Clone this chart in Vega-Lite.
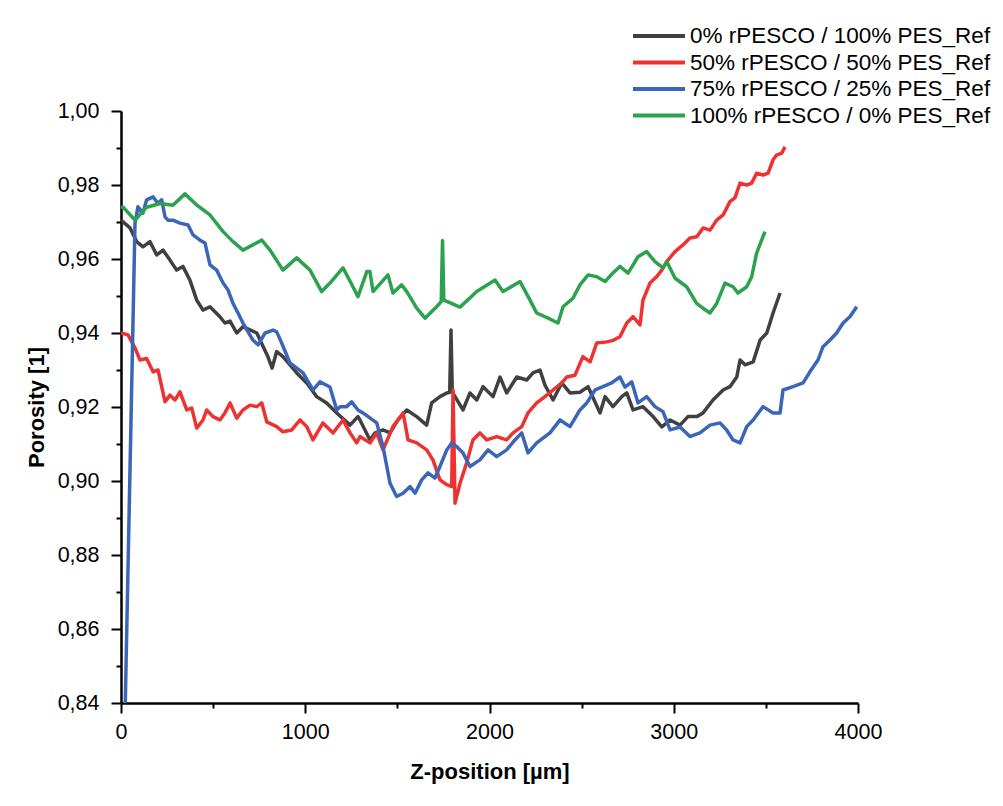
{
  "$schema": "https://vega.github.io/schema/vega-lite/v6.json",
  "width": 737,
  "height": 592,
  "autosize": "none",
  "padding": {"left": 121, "top": 111, "right": 145, "bottom": 103},
  "background": "white",
  "config": {
    "view": {"stroke": null},
    "font": "Liberation Sans",
    "axis": {"domainColor": "black", "domainWidth": 2.5, "tickColor": "black", "tickWidth": 2, "tickSize": 10, "grid": false, "labelFont": "Liberation Sans", "labelFontSize": 21.5, "labelColor": "black", "titleFont": "Liberation Sans", "titleFontSize": 22, "titleFontWeight": "bold", "titleColor": "black"}
  },
  "datasets": {
    "d0": [{"x":0,"y":0.9705},{"x":49,"y":0.9684},{"x":85,"y":0.9647},{"x":119,"y":0.9633},{"x":157,"y":0.9647},{"x":194,"y":0.9611},{"x":228,"y":0.9624},{"x":266,"y":0.9597},{"x":302,"y":0.957},{"x":336,"y":0.958},{"x":374,"y":0.9543},{"x":411,"y":0.9489},{"x":445,"y":0.9462},{"x":483,"y":0.9471},{"x":537,"y":0.9444},{"x":564,"y":0.9427},{"x":592,"y":0.9432},{"x":628,"y":0.94},{"x":662,"y":0.9417},{"x":737,"y":0.94},{"x":798,"y":0.9335},{"x":820,"y":0.9305},{"x":845,"y":0.935},{"x":879,"y":0.9336},{"x":954,"y":0.9292},{"x":1008,"y":0.9265},{"x":1062,"y":0.9228},{"x":1116,"y":0.9211},{"x":1171,"y":0.9184},{"x":1243,"y":0.9151},{"x":1286,"y":0.9174},{"x":1297,"y":0.9165},{"x":1351,"y":0.9111},{"x":1379,"y":0.913},{"x":1422,"y":0.9138},{"x":1460,"y":0.913},{"x":1503,"y":0.9165},{"x":1551,"y":0.9192},{"x":1605,"y":0.9174},{"x":1659,"y":0.9151},{"x":1686,"y":0.9211},{"x":1731,"y":0.9228},{"x":1768,"y":0.9238},{"x":1784,"y":0.924},{"x":1791,"y":0.9408},{"x":1798,"y":0.924},{"x":1813,"y":0.9228},{"x":1856,"y":0.9192},{"x":1894,"y":0.9238},{"x":1931,"y":0.9219},{"x":1965,"y":0.9255},{"x":2019,"y":0.9228},{"x":2057,"y":0.9281},{"x":2093,"y":0.9238},{"x":2148,"y":0.9281},{"x":2202,"y":0.9273},{"x":2236,"y":0.9292},{"x":2274,"y":0.93},{"x":2301,"y":0.9259},{"x":2345,"y":0.9219},{"x":2392,"y":0.9265},{"x":2437,"y":0.9238},{"x":2491,"y":0.924},{"x":2535,"y":0.9255},{"x":2600,"y":0.9184},{"x":2627,"y":0.9228},{"x":2670,"y":0.9201},{"x":2718,"y":0.9228},{"x":2745,"y":0.9238},{"x":2779,"y":0.9192},{"x":2833,"y":0.9201},{"x":2888,"y":0.9174},{"x":2935,"y":0.9146},{"x":2980,"y":0.9165},{"x":3034,"y":0.9151},{"x":3077,"y":0.9174},{"x":3125,"y":0.9174},{"x":3159,"y":0.9184},{"x":3213,"y":0.9219},{"x":3268,"y":0.9246},{"x":3305,"y":0.9255},{"x":3342,"y":0.9281},{"x":3360,"y":0.9327},{"x":3387,"y":0.9314},{"x":3431,"y":0.9322},{"x":3469,"y":0.9381},{"x":3505,"y":0.94},{"x":3539,"y":0.9454},{"x":3577,"y":0.9508}],
    "d50": [{"x":0,"y":0.94},{"x":38,"y":0.9395},{"x":76,"y":0.936},{"x":103,"y":0.9327},{"x":139,"y":0.9331},{"x":174,"y":0.9295},{"x":201,"y":0.93},{"x":239,"y":0.9214},{"x":266,"y":0.9232},{"x":293,"y":0.9219},{"x":320,"y":0.9241},{"x":357,"y":0.9192},{"x":384,"y":0.9197},{"x":411,"y":0.9143},{"x":445,"y":0.9165},{"x":465,"y":0.9192},{"x":499,"y":0.9174},{"x":537,"y":0.9165},{"x":564,"y":0.9184},{"x":592,"y":0.9211},{"x":628,"y":0.917},{"x":662,"y":0.9192},{"x":700,"y":0.9205},{"x":737,"y":0.9201},{"x":764,"y":0.9211},{"x":791,"y":0.916},{"x":845,"y":0.9147},{"x":879,"y":0.9133},{"x":927,"y":0.9138},{"x":972,"y":0.9165},{"x":1008,"y":0.9147},{"x":1042,"y":0.9111},{"x":1096,"y":0.9157},{"x":1151,"y":0.913},{"x":1205,"y":0.9165},{"x":1243,"y":0.913},{"x":1279,"y":0.9103},{"x":1297,"y":0.912},{"x":1351,"y":0.9103},{"x":1388,"y":0.913},{"x":1422,"y":0.9084},{"x":1476,"y":0.9147},{"x":1531,"y":0.9184},{"x":1558,"y":0.9111},{"x":1605,"y":0.9103},{"x":1659,"y":0.9084},{"x":1693,"y":0.9057},{"x":1731,"y":0.9003},{"x":1768,"y":0.899},{"x":1795,"y":0.8985},{"x":1802,"y":0.9246},{"x":1813,"y":0.894},{"x":1840,"y":0.8994},{"x":1876,"y":0.9049},{"x":1910,"y":0.9111},{"x":1948,"y":0.913},{"x":1985,"y":0.9111},{"x":2039,"y":0.912},{"x":2093,"y":0.9111},{"x":2128,"y":0.913},{"x":2175,"y":0.9147},{"x":2209,"y":0.9184},{"x":2256,"y":0.9211},{"x":2301,"y":0.9228},{"x":2345,"y":0.9246},{"x":2392,"y":0.9265},{"x":2419,"y":0.9281},{"x":2464,"y":0.9286},{"x":2507,"y":0.9336},{"x":2546,"y":0.9322},{"x":2582,"y":0.9373},{"x":2637,"y":0.9376},{"x":2670,"y":0.938},{"x":2708,"y":0.939},{"x":2745,"y":0.9427},{"x":2779,"y":0.9444},{"x":2817,"y":0.9422},{"x":2833,"y":0.9489},{"x":2871,"y":0.9535},{"x":2907,"y":0.9552},{"x":2935,"y":0.957},{"x":2962,"y":0.9593},{"x":3007,"y":0.962},{"x":3050,"y":0.9638},{"x":3088,"y":0.9657},{"x":3125,"y":0.966},{"x":3159,"y":0.9684},{"x":3197,"y":0.9678},{"x":3233,"y":0.9705},{"x":3268,"y":0.9719},{"x":3305,"y":0.9755},{"x":3332,"y":0.9765},{"x":3360,"y":0.9805},{"x":3396,"y":0.98},{"x":3423,"y":0.9805},{"x":3450,"y":0.9832},{"x":3485,"y":0.9827},{"x":3512,"y":0.9832},{"x":3539,"y":0.9868},{"x":3558,"y":0.9881},{"x":3586,"y":0.9886},{"x":3604,"y":0.9903}],
    "d75": [{"x":0,"y":0.783},{"x":76,"y":0.9697},{"x":92,"y":0.9741},{"x":119,"y":0.9724},{"x":139,"y":0.976},{"x":174,"y":0.9768},{"x":201,"y":0.975},{"x":221,"y":0.976},{"x":239,"y":0.9714},{"x":255,"y":0.9705},{"x":282,"y":0.9705},{"x":320,"y":0.9697},{"x":364,"y":0.9692},{"x":391,"y":0.9665},{"x":429,"y":0.9651},{"x":456,"y":0.9643},{"x":483,"y":0.9584},{"x":519,"y":0.957},{"x":554,"y":0.9535},{"x":581,"y":0.9516},{"x":608,"y":0.948},{"x":635,"y":0.9454},{"x":662,"y":0.9427},{"x":716,"y":0.9381},{"x":744,"y":0.9368},{"x":782,"y":0.94},{"x":825,"y":0.9408},{"x":845,"y":0.9403},{"x":872,"y":0.9373},{"x":917,"y":0.9319},{"x":988,"y":0.9292},{"x":1042,"y":0.9246},{"x":1080,"y":0.9268},{"x":1134,"y":0.9254},{"x":1171,"y":0.9192},{"x":1189,"y":0.9201},{"x":1225,"y":0.9201},{"x":1252,"y":0.9214},{"x":1286,"y":0.9192},{"x":1313,"y":0.9184},{"x":1388,"y":0.9157},{"x":1422,"y":0.9093},{"x":1460,"y":0.8994},{"x":1496,"y":0.8958},{"x":1531,"y":0.8967},{"x":1569,"y":0.8985},{"x":1596,"y":0.8967},{"x":1632,"y":0.9003},{"x":1666,"y":0.9022},{"x":1704,"y":0.9008},{"x":1731,"y":0.9039},{"x":1768,"y":0.9084},{"x":1795,"y":0.9103},{"x":1822,"y":0.9093},{"x":1856,"y":0.9076},{"x":1894,"y":0.9039},{"x":1948,"y":0.9057},{"x":1992,"y":0.9084},{"x":2039,"y":0.9066},{"x":2093,"y":0.9084},{"x":2138,"y":0.9111},{"x":2175,"y":0.913},{"x":2209,"y":0.9076},{"x":2256,"y":0.9103},{"x":2328,"y":0.913},{"x":2383,"y":0.9165},{"x":2437,"y":0.9147},{"x":2491,"y":0.9192},{"x":2528,"y":0.9211},{"x":2573,"y":0.9246},{"x":2616,"y":0.9255},{"x":2663,"y":0.9265},{"x":2708,"y":0.9281},{"x":2735,"y":0.9254},{"x":2772,"y":0.9268},{"x":2806,"y":0.9211},{"x":2853,"y":0.9228},{"x":2898,"y":0.9201},{"x":2942,"y":0.9187},{"x":2980,"y":0.9138},{"x":3034,"y":0.9146},{"x":3088,"y":0.912},{"x":3142,"y":0.913},{"x":3197,"y":0.9151},{"x":3251,"y":0.9157},{"x":3287,"y":0.9138},{"x":3322,"y":0.9111},{"x":3360,"y":0.9103},{"x":3396,"y":0.9147},{"x":3431,"y":0.9165},{"x":3485,"y":0.9201},{"x":3539,"y":0.9184},{"x":3577,"y":0.9184},{"x":3593,"y":0.9246},{"x":3647,"y":0.9255},{"x":3702,"y":0.9265},{"x":3739,"y":0.9295},{"x":3783,"y":0.9327},{"x":3810,"y":0.9363},{"x":3848,"y":0.9381},{"x":3884,"y":0.94},{"x":3919,"y":0.9427},{"x":3956,"y":0.9444},{"x":3993,"y":0.9471}],
    "d100": [{"x":0,"y":0.974},{"x":12,"y":0.974},{"x":76,"y":0.9705},{"x":139,"y":0.974},{"x":212,"y":0.975},{"x":282,"y":0.9745},{"x":347,"y":0.9776},{"x":411,"y":0.9746},{"x":483,"y":0.9719},{"x":554,"y":0.9674},{"x":608,"y":0.9647},{"x":662,"y":0.9624},{"x":764,"y":0.9651},{"x":809,"y":0.9624},{"x":879,"y":0.957},{"x":954,"y":0.9603},{"x":1026,"y":0.957},{"x":1089,"y":0.9512},{"x":1134,"y":0.9535},{"x":1205,"y":0.9576},{"x":1259,"y":0.9525},{"x":1286,"y":0.9498},{"x":1334,"y":0.9566},{"x":1351,"y":0.9566},{"x":1368,"y":0.9512},{"x":1449,"y":0.9557},{"x":1476,"y":0.9508},{"x":1523,"y":0.953},{"x":1551,"y":0.9512},{"x":1605,"y":0.9467},{"x":1650,"y":0.944},{"x":1713,"y":0.9471},{"x":1738,"y":0.9485},{"x":1745,"y":0.965},{"x":1752,"y":0.9489},{"x":1840,"y":0.947},{"x":1931,"y":0.9512},{"x":2030,"y":0.9543},{"x":2073,"y":0.9512},{"x":2166,"y":0.9539},{"x":2220,"y":0.9489},{"x":2256,"y":0.9454},{"x":2318,"y":0.944},{"x":2372,"y":0.9427},{"x":2399,"y":0.9471},{"x":2453,"y":0.9494},{"x":2491,"y":0.953},{"x":2535,"y":0.9557},{"x":2582,"y":0.9552},{"x":2627,"y":0.9539},{"x":2670,"y":0.9562},{"x":2708,"y":0.958},{"x":2752,"y":0.9562},{"x":2806,"y":0.9606},{"x":2853,"y":0.962},{"x":2898,"y":0.9593},{"x":2942,"y":0.9576},{"x":2962,"y":0.9593},{"x":3007,"y":0.9548},{"x":3070,"y":0.9525},{"x":3124,"y":0.948},{"x":3159,"y":0.9467},{"x":3197,"y":0.9454},{"x":3233,"y":0.948},{"x":3278,"y":0.9535},{"x":3322,"y":0.9525},{"x":3349,"y":0.9508},{"x":3396,"y":0.9525},{"x":3423,"y":0.9552},{"x":3450,"y":0.9616},{"x":3477,"y":0.9651},{"x":3495,"y":0.9674}]
  },
  "encoding": {
    "x": {"field": "x", "type": "quantitative", "title": "Z-position [µm]",
      "scale": {"domain": [0, 4000], "nice": false},
      "axis": {"values": [0,500,1000,1500,2000,2500,3000,3500,4000], "labelExpr": "datum.value % 1000 == 0 ? format(datum.value, 'd') : ''", "labelPadding": 8, "titlePadding": 19, "labelFlush": false,
        "tickDash": {"condition": {"test": "datum.value % 1000 != 0", "value": [5, 20]}, "value": [10, 0]}}},
    "y": {"field": "y", "type": "quantitative", "title": "Porosity [1]",
      "scale": {"domain": [0.84, 1.0], "nice": false, "zero": false},
      "axis": {"values": [0.84,0.85,0.86,0.87,0.88,0.89,0.9,0.91,0.92,0.93,0.94,0.95,0.96,0.97,0.98,0.99,1.0], "labelExpr": "round(datum.value*100) % 2 == 0 ? replace(format(datum.value, '.2f'), '.', ',') : ''", "labelPadding": 12, "titlePadding": 9, "labelFlush": false,
        "tickDash": {"condition": {"test": "round(datum.value*100) % 2 == 1", "value": [5, 20]}, "value": [10, 0]}}},
    "color": {"scale": {"domain": ["0% rPESCO / 100% PES_Ref", "50% rPESCO / 50% PES_Ref", "75% rPESCO / 25% PES_Ref", "100% rPESCO / 0% PES_Ref"], "range": ["#404040", "#ee3232", "#3b66b7", "#2ca24e"]},
      "legend": {"title": null, "orient": "none", "legendX": 526, "legendY": -87, "symbolType": "M-2.6,0H2.6", "symbolSize": 400, "symbolStrokeWidth": 4, "labelFontSize": 22.5, "labelFont": "Liberation Sans", "labelColor": "black", "labelOffset": 19, "rowPadding": 2.5, "padding": 0, "labelLimit": 400}}
  },
  "layer": [
    {"data": {"name": "d0"}, "mark": {"type": "line", "strokeWidth": 3.5, "clip": true, "strokeJoin": "round"}, "encoding": {"color": {"datum": "0% rPESCO / 100% PES_Ref"}}},
    {"data": {"name": "d50"}, "mark": {"type": "line", "strokeWidth": 3.5, "clip": true, "strokeJoin": "round"}, "encoding": {"color": {"datum": "50% rPESCO / 50% PES_Ref"}}},
    {"data": {"name": "d75"}, "mark": {"type": "line", "strokeWidth": 3.5, "clip": true, "strokeJoin": "round"}, "encoding": {"color": {"datum": "75% rPESCO / 25% PES_Ref"}}},
    {"data": {"name": "d100"}, "mark": {"type": "line", "strokeWidth": 3.5, "clip": true, "strokeJoin": "round"}, "encoding": {"color": {"datum": "100% rPESCO / 0% PES_Ref"}}}
  ]
}
